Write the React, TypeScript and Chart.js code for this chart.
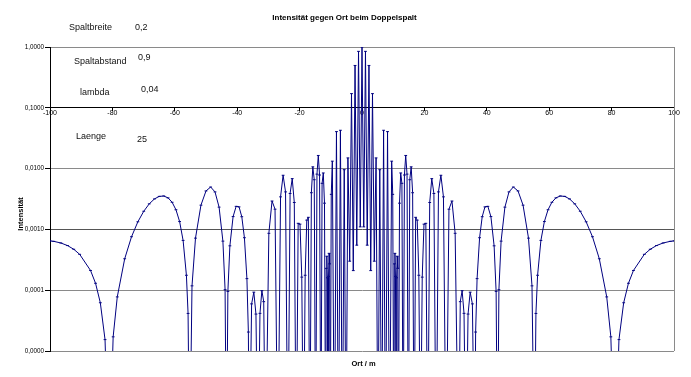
import React, { useEffect, useRef } from "react";
import { Chart, registerables } from "chart.js";

Chart.register(...registerables);

// Ort (m) – sample positions
const ort: number[] = [
  -100, -98.797, -96.522, -94.387, -92.38, -90.488, -87.007, -85.399, -83.873, -82.361,
  -81.031, -79.758, -78.439, -76.061, -73.868, -71.838, -69.951, -68.189, -66.541, -64.994,
  -63.536, -62.161, -60.861, -59.628, -58.456, -57.341, -56.279, -55.745, -55.264, -54.485,
  -53.366, -51.619, -50.005, -48.507, -47.112, -45.807, -44.582, -43.883, -43.43, -42.988,
  -42.343, -41.314, -40.339, -39.412, -38.53, -37.689, -36.885, -36.419, -36.115, -35.38,
  -34.669, -33.99, -33.333, -32.7, -32.093, -31.5, -30.936, -29.853, -28.834, -27.874,
  -26.966, -26.105, -25.286, -24.505, -23.759, -23.045, -22.361, -21.703, -21.07, -20.46,
  -19.871, -19.301, -18.75, -18.216, -17.697, -17.194, -16.704, -16.227, -15.762, -15.309,
  -14.866, -14.434, -14.011, -13.597, -13.191, -12.794, -12.404, -12.021, -11.644, -11.459,
  -11.275, -11.093, -10.911, -10.732, -10.553, -10.376, -10.2, -9.853, -9.51, -8.839,
  -8.184, -7.544, -6.917, -6.302, -5.698, -5.103, -4.516, -3.937, -3.363, -2.795,
  -2.231, -1.67, -1.112, -0.556, 0,
  0.556, 1.112, 1.67, 2.231, 2.795, 3.363, 3.937, 4.516, 5.103, 5.698,
  6.302, 6.917, 7.544, 8.184, 8.839, 9.51, 9.853, 10.2, 10.376, 10.553,
  10.732, 10.911, 11.093, 11.275, 11.459, 11.644, 12.021, 12.404, 12.794, 13.191,
  13.597, 14.011, 14.434, 14.866, 15.309, 15.762, 16.227, 16.704, 17.194, 17.697,
  18.216, 18.75, 19.301, 19.871, 20.46, 21.07, 21.703, 22.361, 23.045, 23.759,
  24.505, 25.286, 26.105, 26.966, 27.874, 28.834, 29.853, 30.936, 31.5, 32.093,
  32.7, 33.333, 33.99, 34.669, 35.38, 36.115, 36.419, 36.885, 37.689, 38.53,
  39.412, 40.339, 41.314, 42.343, 42.988, 43.43, 43.883, 44.582, 45.807, 47.112,
  48.507, 50.005, 51.619, 53.366, 54.485, 55.264, 55.745, 56.279, 57.341, 58.456,
  59.628, 60.861, 62.161, 63.536, 64.994, 66.541, 68.189, 69.951, 71.838, 73.868,
  76.061, 78.439, 79.758, 81.031, 82.361, 83.873, 85.399, 87.007, 90.488, 92.38,
  94.387, 96.522, 98.797, 100,
];

// Intensität – values (1e-7 = below the axis floor)
const intensitaet: number[] = [
  6.47e-4, 6.36e-4, 5.98e-4, 5.42e-4, 4.71e-4, 3.89e-4, 2.11e-4, 1.3e-4, 6.22e-5, 1.54e-5,
  1e-7, 1.71e-5, 7.76e-5, 3.29e-4, 7.58e-4, 1.333e-3, 1.989e-3, 2.633e-3, 3.165e-3, 3.489e-3,
  3.542e-3, 3.301e-3, 2.795e-3, 2.104e-3, 1.346e-3, 6.59e-4, 1.76e-4, 4.15e-5, 1e-7, 1.18e-4,
  7.18e-4, 2.502e-3, 4.291e-3, 4.975e-3, 4.137e-3, 2.322e-3, 6.41e-4, 1.02e-4, 1e-7, 9.55e-5,
  5.37e-4, 1.625e-3, 2.394e-3, 2.348e-3, 1.617e-3, 7.3e-4, 1.55e-4, 2.05e-5, 1e-7, 5.96e-5,
  9.29e-5, 4.05e-5, 1e-7, 4.16e-5, 9.82e-5, 6.48e-5, 1e-7, 8.62e-4, 2.93e-3, 2.15e-3,
  1e-7, 3.43e-3, 7.77e-3, 4.14e-3, 1e-7, 3.9e-3, 6.84e-3, 2.77e-3, 1e-7, 1.26e-3,
  1.22e-3, 1.64e-4, 1e-7, 1.76e-4, 1.42e-3, 1.58e-3, 1e-7, 4.01e-3, 1.069e-2, 6.56e-3,
  1e-7, 8.11e-3, 1.645e-2, 7.84e-3, 1e-7, 5.73e-3, 8.48e-3, 2.7e-3, 1e-7, 2.29e-4,
  3.62e-4, 1.6e-4, 1e-7, 1.69e-4, 4.04e-4, 2.71e-4, 1e-7, 3.77e-3, 1.325e-2, 1e-7,
  4.06e-2, 1e-7, 4.27e-2, 1e-7, 9.6e-3, 1e-7, 1.5e-2, 3.0e-4, 0.171, 2.1e-4,
  0.497, 5.5e-4, 0.848, 1.1e-3, 1,
  1.1e-3, 0.848, 5.5e-4, 0.497, 2.1e-4, 0.171, 3.0e-4, 1.5e-2, 1e-7, 9.6e-3,
  1e-7, 4.27e-2, 1e-7, 4.06e-2, 1e-7, 1.325e-2, 3.77e-3, 1e-7, 2.71e-4, 4.04e-4,
  1.69e-4, 1e-7, 1.6e-4, 3.62e-4, 2.29e-4, 1e-7, 2.7e-3, 8.48e-3, 5.73e-3, 1e-7,
  7.84e-3, 1.645e-2, 8.11e-3, 1e-7, 6.56e-3, 1.069e-2, 4.01e-3, 1e-7, 1.58e-3, 1.42e-3,
  1.76e-4, 1e-7, 1.64e-4, 1.22e-3, 1.26e-3, 1e-7, 2.77e-3, 6.84e-3, 3.9e-3, 1e-7,
  4.14e-3, 7.77e-3, 3.43e-3, 1e-7, 2.15e-3, 2.93e-3, 8.62e-4, 1e-7, 6.48e-5, 9.82e-5,
  4.16e-5, 1e-7, 4.05e-5, 9.29e-5, 5.96e-5, 1e-7, 2.05e-5, 1.55e-4, 7.3e-4, 1.617e-3,
  2.348e-3, 2.394e-3, 1.625e-3, 5.37e-4, 9.55e-5, 1e-7, 1.02e-4, 6.41e-4, 2.322e-3, 4.137e-3,
  4.975e-3, 4.291e-3, 2.502e-3, 7.18e-4, 1.18e-4, 1e-7, 4.15e-5, 1.76e-4, 6.59e-4, 1.346e-3,
  2.104e-3, 2.795e-3, 3.301e-3, 3.542e-3, 3.489e-3, 3.165e-3, 2.633e-3, 1.989e-3, 1.333e-3, 7.58e-4,
  3.29e-4, 7.76e-5, 1.71e-5, 1e-7, 1.54e-5, 6.22e-5, 1.3e-4, 2.11e-4, 3.89e-4, 4.71e-4,
  5.42e-4, 5.98e-4, 6.36e-4, 6.47e-4,
];

const yTickValues: number[] = [1e-5, 1e-4, 1e-3, 1e-2, 1e-1, 1];
const yTickLabels: string[] = ["0,0000", "0,0001", "0,0010", "0,0100", "0,1000", "1,0000"];

const titleText = "Intensität gegen Ort beim Doppelspalt";
const xTitle = "Ort / m";
const yTitle = "Intensität";

const paramNames: string[] = ["Spaltbreite", "Spaltabstand", "lambda", "Laenge"];
const paramValues: string[] = ["0,2", "0,9", "0,04", "25"];

const FONT = 'Arial, "Liberation Sans", Helvetica, sans-serif';

const textPlugin = {
  id: "textPlugin",
  afterDraw(chart: any) {
    const ctx = chart.ctx as CanvasRenderingContext2D;
    const { top, bottom, right } = chart.chartArea;
    ctx.save();
    // right frame line
    ctx.strokeStyle = "#8a8a8a";
    ctx.lineWidth = 1;
    ctx.beginPath();
    ctx.moveTo(Math.round(right) + 0.5, top);
    ctx.lineTo(Math.round(right) + 0.5, bottom);
    ctx.stroke();

    ctx.fillStyle = "#000";
    ctx.textBaseline = "middle";
    // title
    ctx.font = `bold 8px ${FONT}`;
    ctx.textAlign = "center";
    ctx.fillText(titleText, 344.5, 17.5);
    // x title
    ctx.font = `bold 7.5px ${FONT}`;
    ctx.fillText(xTitle, 363.5, 364);
    // y title
    ctx.save();
    ctx.translate(20.5, 214);
    ctx.rotate(-Math.PI / 2);
    ctx.fillText(yTitle, 0, 0);
    ctx.restore();

    // parameter annotations
    ctx.font = `9px ${FONT}`;
    ctx.textAlign = "left";
    ctx.fillStyle = "#111";
    const namePos = [
      [69, 28],
      [74, 62],
      [80, 93],
      [76, 136.5],
    ];
    const valuePos = [
      [135, 28],
      [138, 58],
      [141, 89.5],
      [137, 140],
    ];
    paramNames.forEach((n, i) => ctx.fillText(n, namePos[i][0], namePos[i][1]));
    paramValues.forEach((v, i) => ctx.fillText(v, valuePos[i][0], valuePos[i][1]));
    ctx.restore();
  },
};

export default function App() {
  const canvasRef = useRef<HTMLCanvasElement | null>(null);

  useEffect(() => {
    if (!canvasRef.current) return;
    const points = ort.map((x, i) => ({ x, y: intensitaet[i] }));
    const chart = new Chart(canvasRef.current, {
      type: "scatter",
      data: {
        datasets: [
          {
            data: points,
            showLine: true,
            borderColor: "#000080",
            borderWidth: 1,
            pointStyle: "line",
            pointRadius: 1.4,
            pointBorderWidth: 1,
            pointBorderColor: "#000080",
            pointBackgroundColor: "#000080",
            tension: 0,
          },
        ],
      },
      options: {
        animation: false,
        responsive: false,
        events: [],
        layout: { padding: { left: 0, top: 47, right: 17, bottom: 26 } },
        plugins: {
          legend: { display: false },
          tooltip: { enabled: false },
          title: { display: false },
        },
        scales: {
          x: {
            type: "linear",
            min: -100,
            max: 100,
            position: { y: 0.1 } as any,
            ticks: {
              stepSize: 20,
              autoSkip: false,
              maxRotation: 0,
              padding: -2,
              color: "#000",
              font: { size: 7, family: FONT },
              callback: (v: any) => String(v),
            },
            grid: {
              drawOnChartArea: false,
              drawTicks: true,
              tickLength: 3,
              tickColor: "#000",
            },
            border: { color: "#000", width: 1 },
          },
          y: {
            type: "logarithmic",
            min: 1e-5,
            max: 1,
            afterBuildTicks: (axis: any) => {
              axis.ticks = yTickValues.map((v) => ({ value: v }));
            },
            afterFit: (axis: any) => {
              axis.width = 50;
            },
            ticks: {
              autoSkip: false,
              padding: 1,
              color: "#000",
              font: { size: 6.3, family: FONT },
              callback: (v: any) => {
                const i = yTickValues.indexOf(Number(v));
                return i >= 0 ? yTickLabels[i] : "";
              },
            },
            grid: {
              color: (c: any) => {
                const v = c.tick ? c.tick.value : 0;
                if (v === 0.1) return "#000";
                if (v === 1e-3) return "#555";
                return "#8a8a8a";
              },
              tickColor: "#000",
              tickLength: 5,
              lineWidth: 1,
            },
            border: { color: "#000", width: 1 },
          },
        },
      },
      plugins: [textPlugin],
    });
    return () => chart.destroy();
  }, []);

  return (
    <div style={{ position: "absolute", left: 0, top: 0, width: 691, height: 377, background: "#fff" }}>
      <canvas ref={canvasRef} width={691} height={377} />
    </div>
  );
}
